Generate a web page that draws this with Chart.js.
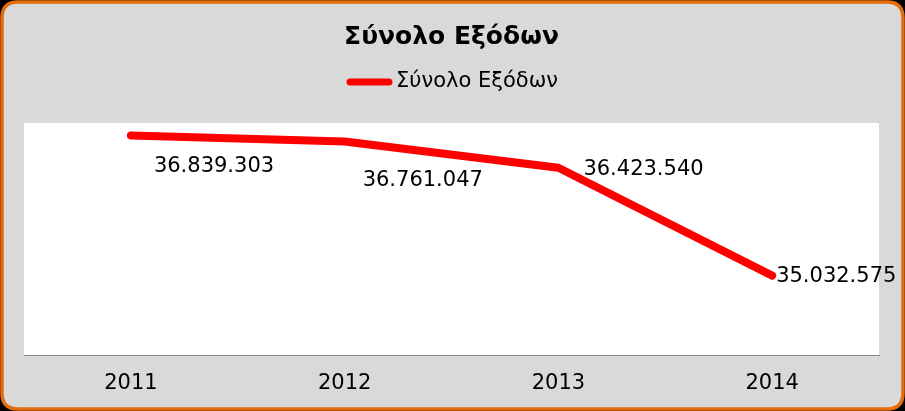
<!DOCTYPE html>
<html>
<head>
<meta charset="utf-8">
<script src="https://cdn.jsdelivr.net/npm/chart.js@4/dist/chart.umd.min.js"></script>
<style>
  html, body { margin: 0; padding: 0; background: #000; }
  #wrap { width: 905px; height: 411px; }
</style>
</head>
<body>
<div id="wrap"><canvas id="expensesChart" width="905" height="411"></canvas></div>
<script>
// chart values
const years = ['2011', '2012', '2013', '2014'];
const totalExpenses = [36839303, 36761047, 36423540, 35032575];
const seriesName = 'Σύνολο Εξόδων';
const chartTitle = 'Σύνολο Εξόδων';

// where each value label sits relative to its point (dx = left edge, dy = middle)
const labelOffsets = [[23, 31], [18, 39], [25, 2], [4, 1]];

const FONT = 'DejaVu Sans';

function fmt(n) {
  return String(n).replace(/\B(?=(\d{3})+(?!\d))/g, '.');
}

function roundRect(ctx, x, y, w, h, r) {
  ctx.beginPath();
  ctx.moveTo(x + r, y);
  ctx.lineTo(x + w - r, y);
  ctx.quadraticCurveTo(x + w, y, x + w, y + r);
  ctx.lineTo(x + w, y + h - r);
  ctx.quadraticCurveTo(x + w, y + h, x + w - r, y + h);
  ctx.lineTo(x + r, y + h);
  ctx.quadraticCurveTo(x, y + h, x, y + h - r);
  ctx.lineTo(x, y + r);
  ctx.quadraticCurveTo(x, y, x + r, y);
  ctx.closePath();
}

// grey panel with orange rounded frame and white plot area
const framePlugin = {
  id: 'frame',
  beforeDraw(chart) {
    const ctx = chart.ctx;
    const a = chart.chartArea;
    ctx.save();
    ctx.fillStyle = '#000';
    ctx.fillRect(0, 0, chart.width, chart.height);
    roundRect(ctx, 2, 2, chart.width - 4, chart.height - 4, 16);
    ctx.fillStyle = '#d9d9d9';
    ctx.fill();
    ctx.lineWidth = 3.5;
    ctx.strokeStyle = '#e46c0a';
    ctx.stroke();
    ctx.fillStyle = '#fff';
    ctx.fillRect(a.left, a.top, a.right - a.left, a.bottom - a.top);
    ctx.restore();
  }
};

// legend line + text, and value labels next to the points
const labelsPlugin = {
  id: 'labels',
  afterDatasetsDraw(chart) {
    const ctx = chart.ctx;
    const ds = chart.data.datasets[0];
    ctx.save();

    // legend
    ctx.font = '21px "' + FONT + '"';
    const textW = ctx.measureText(ds.label).width;
    const lineW = 45;
    const gap = 4;
    const startX = chart.width / 2 - (lineW + gap + textW) / 2;
    const ly = 82;
    ctx.strokeStyle = ds.borderColor;
    ctx.lineWidth = 7;
    ctx.lineCap = 'round';
    ctx.beginPath();
    ctx.moveTo(startX + 3, ly);
    ctx.lineTo(startX + lineW - 3, ly);
    ctx.stroke();
    ctx.fillStyle = '#000';
    ctx.textBaseline = 'middle';
    ctx.textAlign = 'left';
    ctx.fillText(ds.label, startX + lineW + gap, ly);

    // data labels
    const meta = chart.getDatasetMeta(0);
    meta.data.forEach((pt, i) => {
      const off = labelOffsets[i];
      ctx.fillText(fmt(ds.data[i]), pt.x + off[0], pt.y + off[1]);
    });
    ctx.restore();
  }
};

new Chart(document.getElementById('expensesChart').getContext('2d'), {
  type: 'line',
  data: {
    labels: years,
    datasets: [
      {
        label: seriesName,
        data: totalExpenses,
        borderColor: '#ff0000',
        backgroundColor: '#ff0000',
        borderWidth: 8,
        borderCapStyle: 'round',
        borderJoinStyle: 'round',
        pointRadius: 0,
        tension: 0,
        fill: false
      }
    ]
  },
  options: {
    responsive: false,
    animation: false,
    layout: {
      padding: { left: 24, right: 26, top: 0, bottom: 0 }
    },
    plugins: {
      legend: { display: false },
      tooltip: { enabled: false },
      title: {
        display: true,
        text: chartTitle,
        color: '#000',
        font: { family: FONT, size: 25, weight: 'bold', lineHeight: 1.2 },
        padding: { top: 22, bottom: 71 }
      }
    },
    scales: {
      x: {
        offset: true,
        grid: { display: false, drawTicks: false },
        border: { display: true, color: '#898989', width: 1 },
        ticks: {
          color: '#000',
          padding: 15,
          font: { family: FONT, size: 21 }
        }
      },
      y: {
        display: false,
        min: 34000000,
        max: 37000000
      }
    }
  },
  plugins: [framePlugin, labelsPlugin]
});
</script>
</body>
</html>
